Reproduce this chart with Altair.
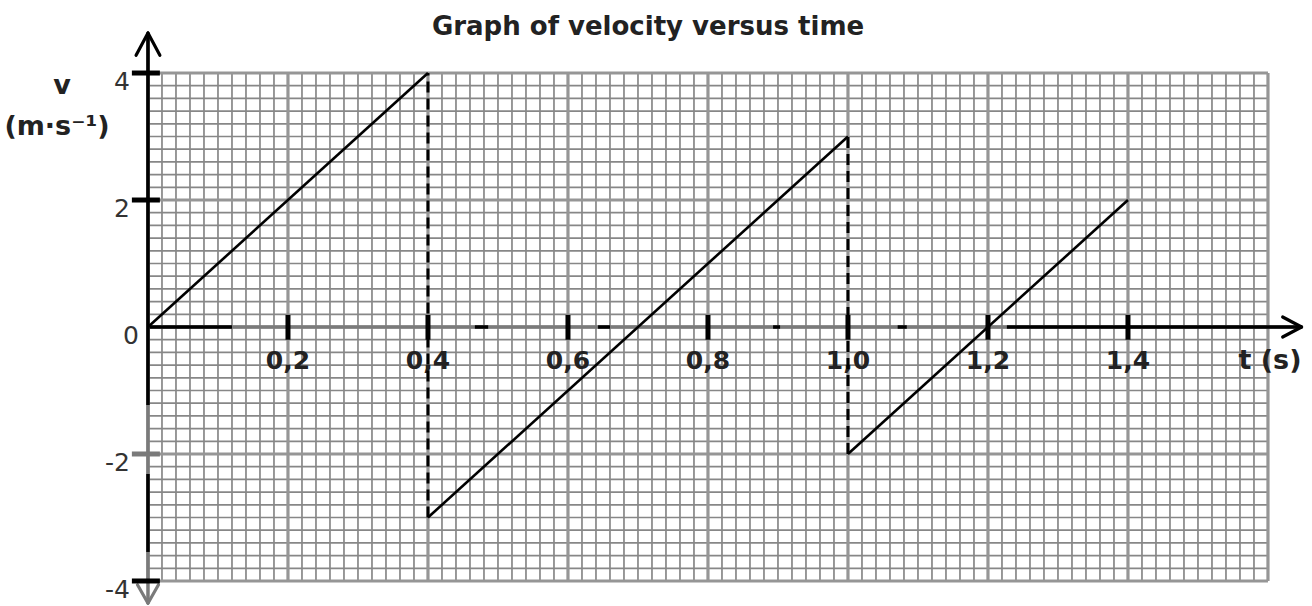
import altair as alt
import numpy as np
import pandas as pd

# ---- data -------------------------------------------------------------
# straight velocity segments (t in s, v in m/s)
seg_t0 = [0.0, 0.4, 1.0]
seg_v0 = [0.0, -3.0, -2.0]
seg_t1 = [0.4, 1.0, 1.4]
seg_v1 = [4.0, 3.0, 2.0]

# instantaneous velocity changes, drawn dashed
jump_t = [0.4, 1.0]
jump_v_top = [4.0, 3.0]
jump_v_bot = [-3.0, -2.0]

x_ticks = [0.2, 0.4, 0.6, 0.8, 1.0, 1.2, 1.4]
x_labels = ["0,2", "0,4", "0,6", "0,8", "1,0", "1,2", "1,4"]
y_ticks = [4, 2, 0, -2, -4]
y_labels = ["4", "2", "0", "-2", "-4"]

# graph paper extent
T_MAX = 1.6
V_MIN, V_MAX = -4.0, 4.0

# ---- scales -----------------------------------------------------------
W, H = 1312, 606
XS = alt.Scale(domain=[-0.2114, 1.6629], nice=False, zero=False)
YS = alt.Scale(domain=[-4.394, 5.150], nice=False, zero=False)
FONT = "DejaVu Sans"


def xq(f):
    return alt.X(f, type="quantitative", scale=XS, axis=None)


def yq(f):
    return alt.Y(f, type="quantitative", scale=YS, axis=None)


# ---- graph paper ------------------------------------------------------
gx = np.round(np.arange(0, T_MAX + 1e-9, 0.02), 2)
gy = np.round(np.arange(V_MIN, V_MAX + 1e-9, 0.2), 1)
vgrid = pd.DataFrame({"t": gx, "lo": V_MIN, "hi": V_MAX,
                      "major": [abs(v / 0.2 - round(v / 0.2)) < 1e-6 for v in gx]})
hgrid = pd.DataFrame({"v": gy, "lo": 0.0, "hi": T_MAX,
                      "major": [abs(v / 2 - round(v / 2)) < 1e-6 for v in gy]})
vgrid.loc[vgrid["t"] == T_MAX, "major"] = True


def grid_layers():
    out = []
    for major, col, sw in [(False, "#878787", 1.7), (True, "#969696", 3.2)]:
        out.append(alt.Chart(vgrid[vgrid["major"] == major]).mark_rule(
            color=col, strokeWidth=sw).encode(x=xq("t"), y=yq("lo"), y2="hi"))
        out.append(alt.Chart(hgrid[hgrid["major"] == major]).mark_rule(
            color=col, strokeWidth=sw).encode(y=yq("v"), x=xq("lo"), x2="hi"))
    return out


# ---- axes -------------------------------------------------------------
AX_COL, AX_GRAY = "black", "#7a7a7a"
x_axis_end = 1.648
y_axis_top, y_axis_bot = 4.63, -4.35

x_axis_full = pd.DataFrame({"a": [0.0], "b": [x_axis_end], "v": [0.0]})
x_axis_dark = pd.DataFrame({"a": [0.0, 0.467, 0.643, 0.893, 1.071, 1.227],
                            "b": [0.12, 0.486, 0.66, 0.903, 1.084, x_axis_end],
                            "v": 0.0})
y_axis_full = pd.DataFrame({"a": [y_axis_bot], "b": [y_axis_top], "t": [0.0]})
y_axis_dark = pd.DataFrame({"a": [-1.228, -3.543], "b": [y_axis_top, -2.315], "t": 0.0})

arrows = pd.DataFrame({
    "t0": [-0.017, 0.017, -0.015, 0.015, 1.621, 1.621],
    "v0": [4.28, 4.28, -4.06, -4.06, 0.157, -0.157],
    "t1": [0.0, 0.0, 0.0, 0.0, x_axis_end, x_axis_end],
    "v1": [y_axis_top, y_axis_top, y_axis_bot, y_axis_bot, 0.0, 0.0],
    "c": ["k", "k", "g", "g", "k", "k"],
})

xt = pd.DataFrame({"t": x_ticks, "lab": x_labels, "lo": -0.2, "hi": 0.19})
yt_all = pd.DataFrame({"v": y_ticks, "lab": y_labels})
yt = yt_all[yt_all["v"] != 0].assign(a=-0.023, b=0.017,
                                     c=lambda d: np.where(d["v"] == -2, "g", "k"))

color_map = alt.Scale(domain=["k", "g"], range=[AX_COL, AX_GRAY])

ylab_style = dict(font=FONT, fontSize=25, color="#333", align="right",
                  baseline="middle", dy=9)

axis_layers = [
    alt.Chart(x_axis_full).mark_rule(color=AX_GRAY, strokeWidth=3.5).encode(
        x=xq("a"), x2="b", y=yq("v")),
    alt.Chart(x_axis_dark).mark_rule(color=AX_COL, strokeWidth=3.5).encode(
        x=xq("a"), x2="b", y=yq("v")),
    alt.Chart(y_axis_full).mark_rule(color=AX_GRAY, strokeWidth=3.5).encode(
        y=yq("a"), y2="b", x=xq("t")),
    alt.Chart(y_axis_dark).mark_rule(color=AX_COL, strokeWidth=3.5).encode(
        y=yq("a"), y2="b", x=xq("t")),
    alt.Chart(arrows).mark_rule(strokeWidth=3.2, strokeCap="round").encode(
        x=xq("t0"), y=yq("v0"), x2="t1", y2="v1",
        color=alt.Color("c:N", scale=color_map, legend=None)),
    alt.Chart(xt).mark_rule(color=AX_COL, strokeWidth=5).encode(
        x=xq("t"), y=yq("lo"), y2="hi"),
    alt.Chart(yt).mark_rule(strokeWidth=5).encode(
        y=yq("v"), x=xq("a"), x2="b",
        color=alt.Color("c:N", scale=color_map, legend=None)),
    alt.Chart(xt).mark_text(font=FONT, fontSize=25, fontWeight="bold", color="#222",
                            baseline="middle", dy=21).encode(
        x=xq("t"), y=yq("lo"), text="lab:N"),
    alt.Chart(yt_all[yt_all["v"] != 0]).mark_text(**ylab_style).encode(
        x=alt.value(130), y=yq("v"), text="lab:N"),
    alt.Chart(yt_all[yt_all["v"] == 0]).mark_text(**ylab_style).encode(
        x=alt.value(139), y=yq("v"), text="lab:N"),
]

# ---- velocity graph ---------------------------------------------------
segs = pd.DataFrame({"t0": seg_t0, "v0": seg_v0, "t1": seg_t1, "v1": seg_v1})
jumps = pd.DataFrame({"t": jump_t, "top": jump_v_top, "bot": jump_v_bot})

curve_layers = [
    alt.Chart(jumps).mark_rule(color="black", strokeWidth=3, strokeDash=[11, 6]).encode(
        x=xq("t"), y=yq("bot"), y2="top"),
    alt.Chart(segs).mark_rule(color="black", strokeWidth=2.6).encode(
        x=xq("t0"), y=yq("v0"), x2="t1", y2="v1"),
]

# ---- titles and axis names ---------------------------------------------
notes = pd.DataFrame({
    "txt": ["Graph of velocity versus time", "t (s)", "v", "(m·s⁻¹)"],
    "px": [648, 1270, 62, 57],
    "py": [27, 361, 86, 127],
    "size": [26, 27, 27, 27],
})
note_layer = alt.Chart(notes).mark_text(font=FONT, fontWeight="bold", color="#222",
                                        baseline="middle").encode(
    x=alt.X("px:Q", scale=None), y=alt.Y("py:Q", scale=None), text="txt:N",
    size=alt.Size("size:Q", scale=None, legend=None))

chart = alt.layer(*grid_layers(), *axis_layers, *curve_layers, note_layer).properties(
    width=W, height=H, padding=0, autosize=alt.AutoSizeParams(type="none"),
    background="white",
).configure_view(stroke=None)

chart.save("out.html", embed_options={"renderer": "svg", "actions": False})
